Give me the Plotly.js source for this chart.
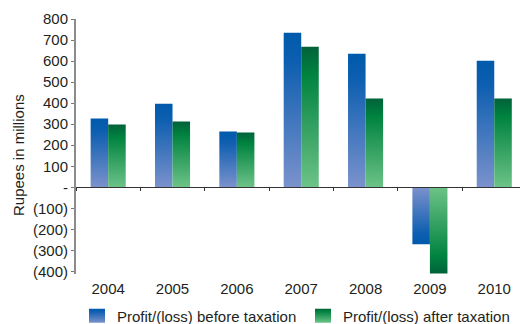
<!DOCTYPE html>
<html><head><meta charset="utf-8">
<script src="https://cdn.plot.ly/plotly-3.0.1.min.js"></script>
<style>html,body{margin:0;padding:0;overflow:hidden;background:#fff}</style>
</head><body>
<div id="chart" style="width:520px;height:324px"></div>
<script>
const years = ['2004','2005','2006','2007','2008','2009','2010'];
const beforeTax = [327, 397, 265, 735, 635, -271, 602];
const afterTax = [298, 313, 261, 668, 422, -410, 422];
const yTickVals = [-400,-300,-200,-100,0,100,200,300,400,500,600,700,800];
const yTickText = ['(400)','(300)','(200)','(100)','-','100','200','300','400','500','600','700','800'];
const seriesNames = ['Profit/(loss) before taxation','Profit/(loss) after taxation'];
const yTitle = 'Rupees in millions';

const FONT = 'Liberation Sans, Arial, sans-serif';
const TXT = '#231f20';

const traces = [
  {type:'bar', x:years, y:beforeTax, name:seriesNames[0], marker:{color:'#3a6fbd', line:{width:0}}, legend:'legend', hoverinfo:'skip'},
  {type:'bar', x:years, y:afterTax, name:seriesNames[1], marker:{color:'#2f9a5a', line:{width:0}}, legend:'legend2', hoverinfo:'skip'},
  {type:'scatter', mode:'none', x:years, y:years.map(()=>null), xaxis:'x2', yaxis:'y', showlegend:false, hoverinfo:'skip'}
];

const layout = {
  width:520, height:324,
  margin:{l:76, r:0, t:19, b:50, pad:0, autoexpand:false},
  paper_bgcolor:'#fff', plot_bgcolor:'#fff',
  font:{family:FONT, color:TXT, size:14},
  barmode:'group', bargap:0.455, bargroupgap:0,
  xaxis:{type:'category', range:[-0.5, 6.4], showline:false, ticks:'', showgrid:false, zeroline:false,
         tickfont:{size:15, color:TXT}, automargin:false, ticklabelstandoff:4},
  xaxis2:{type:'category', overlaying:'x', anchor:'free', position:412/1212, range:[-0.5, 6.4],
          showline:true, linecolor:'#333', linewidth:1, ticks:'outside', tickson:'boundaries', ticklen:3,
          tickcolor:'#333', tickwidth:1, showticklabels:false, showgrid:false, zeroline:false},
  yaxis:{range:[-412, 800], tickvals:yTickVals, ticktext:yTickText, showgrid:false, zeroline:false,
         showline:true, linecolor:'#8c8c8c', linewidth:2, ticks:'outside', ticklen:3, tickcolor:'#777', tickwidth:1,
         tickfont:{size:15, color:TXT}, automargin:false},
  showlegend:true,
  legend:{orientation:'h', x:(77-76)/444, xanchor:'left', y:-42/255, yanchor:'middle', font:{size:15, color:TXT}, bgcolor:'rgba(0,0,0,0)'},
  legend2:{orientation:'h', x:(303-76)/444, xanchor:'left', y:-42/255, yanchor:'middle', font:{size:15, color:TXT}, bgcolor:'rgba(0,0,0,0)'},
  annotations:[{text:yTitle, textangle:-90, xref:'paper', yref:'paper', x:(18-76)/444, y:(274-155)/255,
    xanchor:'center', yanchor:'middle', showarrow:false, font:{size:15, color:TXT}}]
};

function addGrad(defs, id, stops, reverse){
  const ns='http://www.w3.org/2000/svg';
  const g=document.createElementNS(ns,'linearGradient');
  g.setAttribute('id',id); g.setAttribute('x1','0'); g.setAttribute('y1', reverse?'1':'0');
  g.setAttribute('x2','0'); g.setAttribute('y2', reverse?'0':'1');
  stops.forEach(s=>{const st=document.createElementNS(ns,'stop'); st.setAttribute('offset',s[0]); st.setAttribute('stop-color',s[1]); g.appendChild(st);});
  defs.appendChild(g);
}

Plotly.newPlot('chart', traces, layout, {staticPlot:true, displayModeBar:false}).then(gd=>{
  const svg = gd.querySelector('svg.main-svg');
  let defs = svg.querySelector('defs');
  if(!defs){defs=document.createElementNS('http://www.w3.org/2000/svg','defs'); svg.insertBefore(defs, svg.firstChild);}
  const blue=[['0','#005aab'],['0.18','#0c5eb0'],['1','#7b92cc']];
  const green=[['0','#00623a'],['0.2','#00833f'],['1','#6dc388']];
  addGrad(defs,'gBlueUp',blue,false); addGrad(defs,'gBlueDn',blue,true);
  addGrad(defs,'gGreenUp',green,false); addGrad(defs,'gGreenDn',green,true);
  const series=[beforeTax, afterTax];
  const names=[['gBlueUp','gBlueDn'],['gGreenUp','gGreenDn']];
  gd.querySelectorAll('g.barlayer g.trace.bars').forEach(tr=>{
    const cd=tr.__data__; const idx=cd[0].trace.index;
    tr.querySelectorAll('g.point path').forEach((p,i)=>{
      const v=series[idx][i];
      p.style.fill='url(#'+names[idx][v<0?1:0]+')';
    });
  });
  gd.querySelectorAll('g.legendpoints path').forEach(p=>{
    const t=p.closest('g.traces'); if(!t||!t.__data__) return;
    const idx=t.__data__[0].trace.index;
    p.style.fill='url(#'+names[idx][0]+')';
    p.setAttribute('d','M8,7H-8V-7H8Z');
  });
});
</script>
</body></html>
